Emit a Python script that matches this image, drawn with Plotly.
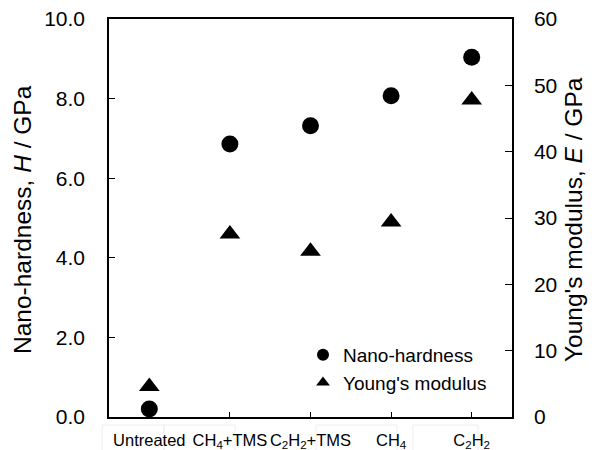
import plotly.graph_objects as go

# ---- data ----
categories = ["Untreated", "CH<sub>4</sub>+TMS", "C<sub>2</sub>H<sub>2</sub>+TMS", "CH<sub>4</sub>", "C<sub>2</sub>H<sub>2</sub>"]
x_pos = [1, 2, 3, 4, 5]
hardness = [0.2, 6.86, 7.32, 8.07, 9.04]        # GPa (left axis)
modulus = [4.6, 27.6, 25.0, 29.4, 47.8]         # GPa (right axis)
h_ticks = [0, 2, 4, 6, 8, 10]
e_ticks = [0, 10, 20, 30, 40, 50, 60]

W, H = 600, 450
L, R, T, B = 109, 512, 19, 417

def px(x):
    return (x - L) / (R - L)

def py(y):
    return (B - y) / (B - T)

FONT = "Arial, Liberation Sans, Helvetica, sans-serif"

fig = go.Figure()
fig.add_trace(go.Scatter(
    x=x_pos, y=hardness, mode="markers", name="Nano-hardness",
    marker=dict(symbol="circle", size=17, color="black"),
    yaxis="y", cliponaxis=False))
fig.add_trace(go.Scatter(
    x=x_pos, y=modulus, mode="markers", name="Young's modulus",
    marker=dict(symbol="triangle-up", size=18, color="black"),
    yaxis="y2", cliponaxis=False))

fig.update_layout(
    width=W, height=H,
    margin=dict(l=L, r=W - R, t=T, b=H - B, pad=0, autoexpand=False),
    paper_bgcolor="white", plot_bgcolor="white",
    font=dict(family=FONT, color="black", size=18),
    showlegend=True,
    legend=dict(x=px(303), y=py(336), xanchor="left", yanchor="top",
                bgcolor="rgba(0,0,0,0)", borderwidth=0,
                font=dict(size=19, family=FONT), itemsizing="constant",
                tracegroupgap=0),
    xaxis=dict(range=[0.5, 5.5], tickvals=x_pos, ticktext=categories,
               automargin=False,
               showgrid=False, zeroline=False, showline=True, linecolor="black",
               linewidth=1.5, mirror=True, ticks="inside", ticklen=5,
               tickcolor="black", tickwidth=1, tickfont=dict(size=16.5, family=FONT),
               ticklabelstandoff=7),
    yaxis=dict(range=[0, 10], tickvals=h_ticks, tickformat=".1f",
               automargin=False,
               showgrid=False, zeroline=False, showline=True, linecolor="black",
               linewidth=1.5, ticks="inside", ticklen=6, tickcolor="black",
               tickfont=dict(size=21, family=FONT), ticklabelstandoff=18),
    yaxis2=dict(range=[0, 60], tickvals=e_ticks, overlaying="y", side="right",
                automargin=False,
                showgrid=False, zeroline=False, showline=True, linecolor="black",
                linewidth=1.5, ticks="inside", ticklen=7, tickcolor="black",
                tickfont=dict(size=21, family=FONT), ticklabelstandoff=16),
)

# axis titles as rotated annotations
fig.add_annotation(text="Nano-hardness, <i>H</i> / GPa", x=px(22), y=py(220),
                   xref="paper", yref="paper", textangle=-90, showarrow=False,
                   font=dict(size=24.5, family=FONT), xanchor="center", yanchor="middle")
fig.add_annotation(text="Young's modulus, <i>E</i> / GPa", x=px(573), y=py(220),
                   xref="paper", yref="paper", textangle=-90, showarrow=False,
                   font=dict(size=24.5, family=FONT), xanchor="center", yanchor="middle")

# faint table-cell borders around the category labels
for x0, x1 in [(102, 164), (164, 235), (316, 397), (413, 478)]:
    fig.add_shape(type="rect", xref="paper", yref="paper",
                  x0=px(x0), x1=px(x1), y0=py(452), y1=py(425),
                  line=dict(color="#eeeeee", width=1), layer="below")

fig.write_html("out.html")
